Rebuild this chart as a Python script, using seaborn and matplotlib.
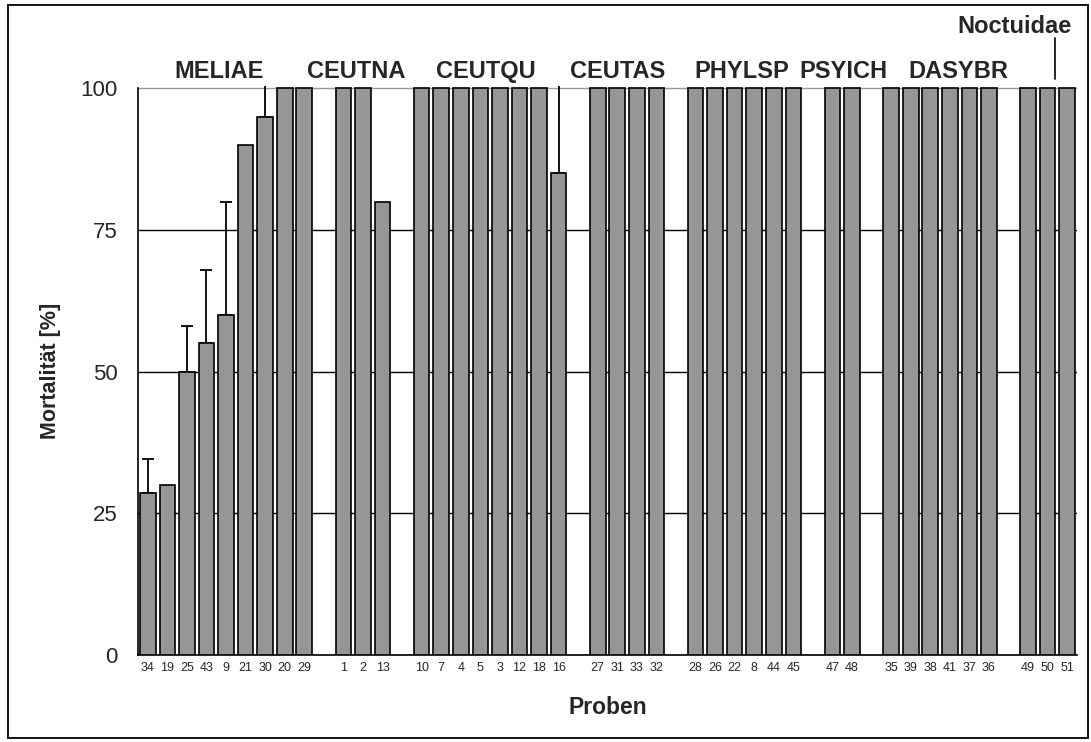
import numpy as np
import pandas as pd
import matplotlib
matplotlib.use("Agg")
import matplotlib.pyplot as plt
import matplotlib.transforms as mtransforms
from matplotlib.patches import Rectangle
import seaborn as sns

# ---------------- data ----------------
groups = ["MELIAE", "CEUTNA", "CEUTQU", "CEUTAS", "PHYLSP", "PSYICH", "DASYBR", "Noctuidae"]
group_sizes = [9, 3, 8, 4, 6, 2, 6, 3]
samples = ["34", "19", "25", "43", "9", "21", "30", "20", "29",
           "1", "2", "13",
           "10", "7", "4", "5", "3", "12", "18", "16",
           "27", "31", "33", "32",
           "28", "26", "22", "8", "44", "45",
           "47", "48",
           "35", "39", "38", "41", "37", "36",
           "49", "50", "51"]
mortality = [28.5, 30, 50, 55, 60, 90, 95, 100, 100,
             100, 100, 80,
             100, 100, 100, 100, 100, 100, 100, 85,
             100, 100, 100, 100,
             100, 100, 100, 100, 100, 100,
             100, 100,
             100, 100, 100, 100, 100, 100,
             100, 100, 100]
error_up = [6, 0, 8, 13, 20, 0, 10, 0, 0,
            0, 0, 0,
            0, 0, 0, 0, 0, 0, 0, 20,
            0, 0, 0, 0,
            0, 0, 0, 0, 0, 0,
            0, 0,
            0, 0, 0, 0, 0, 0,
            0, 0, 0]
y_ticks = [0, 25, 50, 75, 100]

# ---------- build category slots (with empty gap slots between groups) ----------
slot_names, slot_labels, slot_vals, slot_err = [], [], [], []
k = 0
for gi, (g, n) in enumerate(zip(groups, group_sizes)):
    for j in range(n):
        slot_names.append("s" + samples[k])
        slot_labels.append(samples[k])
        slot_vals.append(mortality[k])
        slot_err.append(error_up[k])
        k += 1
    if gi < len(groups) - 1:
        slot_names.append(f"gap{gi}")
        slot_labels.append("")
        slot_vals.append(np.nan)
        slot_err.append(0)

df = pd.DataFrame({"slot": slot_names, "Mortalität": slot_vals})
n_slots = len(slot_names)

# ---------------- figure ----------------
sns.set_style("white")
plt.rcParams["font.family"] = ["Liberation Sans", "DejaVu Sans"]

W, H = 1091, 742
fig = plt.figure(figsize=(W / 100, H / 100), dpi=100)
ax = fig.add_axes([138 / W, (H - 655) / H, (1077 - 138) / W, (655 - 86) / H])

sns.barplot(data=df, x="slot", y="Mortalität", order=slot_names, ax=ax,
            color="#969696", saturation=1, edgecolor="black", linewidth=1.2,
            width=0.8, errorbar=None, zorder=3)

# error bars (upper only)
pos = np.arange(n_slots)
vals = np.array(slot_vals, dtype=float)
errs = np.array(slot_err, dtype=float)
m = errs > 0
ax.errorbar(pos[m], vals[m], yerr=[np.zeros(m.sum()), errs[m]], fmt="none",
            ecolor="black", elinewidth=1.3, capsize=4, capthick=1.3, zorder=2.5)

ax.set_xlim(-0.5, n_slots - 0.5)
ax.set_ylim(0, 100.4)
ax.set_yticks(y_ticks)
ax.set_yticklabels([str(t) for t in y_ticks])

# gridlines
ax.yaxis.grid(True, color="black", linewidth=1.0)
ax.set_axisbelow(True)
gl = ax.yaxis.get_gridlines()
gl[-1].set_color("#9a9a9a")

# spines
for s in ["top", "right"]:
    ax.spines[s].set_visible(False)
for s in ["left", "bottom"]:
    ax.spines[s].set_color("black")
    ax.spines[s].set_linewidth(1.2)
ax.spines["left"].set_bounds(0, 100)

# ticks
ax.set_xticks(pos)
ax.set_xticklabels(slot_labels)
ax.set_xticks(np.arange(-0.5, n_slots, 1.0), minor=True)
ax.tick_params(axis="x", which="major", length=0, pad=5, labelsize=9)
ax.tick_params(axis="x", which="minor", length=3.5, width=1, direction="out", color="black")
ax.tick_params(axis="y", which="major", length=4.5, width=1, direction="out",
               color="black", pad=10, labelsize=16)

ax.set_xlabel("Proben", fontsize=16.5, fontweight="bold", labelpad=16)
ax.set_ylabel("Mortalität [%]", fontsize=15.5, fontweight="bold", labelpad=14)

# group labels above the bars
trans = mtransforms.blended_transform_factory(ax.transData, ax.transAxes)
label_x = [3.64, 10.65, 17.29, 24.04, 30.38, 35.54, 41.42, 44.29]
label_y = [1.025, 1.025, 1.025, 1.025, 1.025, 1.025, 1.025, 1.105]
for g, lx, ly in zip(groups, label_x, label_y):
    ax.text(lx, ly, g, transform=trans, ha="center", va="center",
            fontsize=17, fontweight="bold", clip_on=False)
ax.plot([46.4, 46.4], [1.012, 1.085], transform=trans, color="black",
        linewidth=1.2, clip_on=False)

# outer chart border
fig.patches.append(Rectangle((8 / W, 4 / H), (1088 - 8) / W, (737 - 4) / H,
                             transform=fig.transFigure, fill=False,
                             edgecolor="black", linewidth=1.3))

fig.savefig("out.png", dpi=100)
